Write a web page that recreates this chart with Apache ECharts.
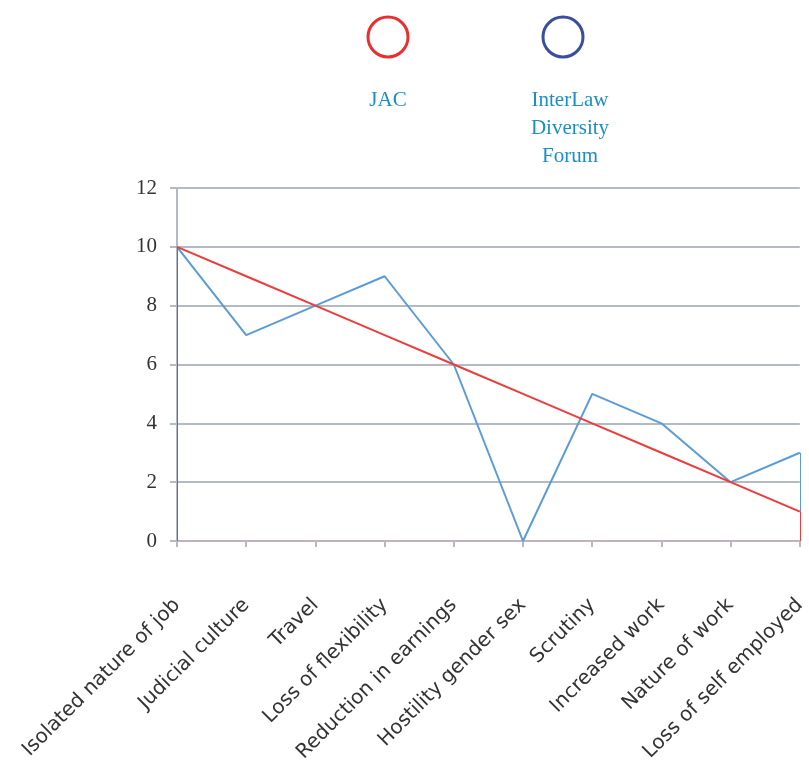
<!DOCTYPE html>
<html><head><meta charset="utf-8">
<script src="https://cdn.jsdelivr.net/npm/echarts@6/dist/echarts.min.js"></script>
<style>html,body{margin:0;padding:0;background:#fff;overflow:hidden}#c{width:809px;height:765px}</style>
</head><body><div id="c"></div>
<script>
var categories = ['Isolated nature of job','Judicial culture','Travel','Loss of flexibility','Reduction in earnings','Hostility gender sex','Scrutiny','Increased work','Nature of work','Loss of self employed'];
var jacValues = [10,9,8,7,6,5,4,3,2,1];
var interlawValues = [10,7,8,9,6,0,5,4,2,3];
var seriesNames = ['JAC','InterLaw\nDiversity\nForum'];
var yTicks = [0,2,4,6,8,10,12];

var RED = '#ef3b3a', BLUE = '#5b9bd6', LEGBLUE = '#3a4ea0', TXT = '#1a8fc6';
var last = categories.length - 1;
function edges(vals){
  return [
    [{coord:[0,0]},{coord:[0,vals[0]]}],
    [{coord:[last,0]},{coord:[last,vals[last]]}]
  ];
}
var chart = echarts.init(document.getElementById('c'));
chart.setOption({
  animation:false,
  grid:{left:177,width:628,top:188,height:353,containLabel:false},
  xAxis:{type:'category',data:categories,boundaryGap:false,
    axisLine:{lineStyle:{color:'#c3b2bd',width:2}},
    axisTick:{show:true,alignWithLabel:true,length:6,lineStyle:{color:'#b4bac4',width:2}},
    axisLabel:{rotate:45,margin:61,color:'#333',fontFamily:'DejaVu Sans',fontSize:20,interval:0}},
  yAxis:{type:'value',min:yTicks[0],max:yTicks[yTicks.length-1],interval:2,
    axisLine:{show:true,lineStyle:{color:'#b4bac4',width:2}},
    axisTick:{show:true,length:7,lineStyle:{color:'#b4bac4',width:2}},
    splitLine:{lineStyle:{color:'#b4bac4',width:2}},
    axisLabel:{margin:20,color:'#333',fontFamily:'Liberation Serif',fontSize:21}},
  graphic:[
    {type:'circle',shape:{cx:388,cy:37,r:20},style:{fill:'none',stroke:'#e8302e',lineWidth:3}},
    {type:'circle',shape:{cx:563,cy:37,r:20},style:{fill:'none',stroke:LEGBLUE,lineWidth:3}},
    {type:'text',x:388,y:100,style:{text:seriesNames[0],fill:TXT,font:'21px "Liberation Serif"',align:'center',verticalAlign:'middle'}},
    {type:'text',x:570,y:128,style:{text:seriesNames[1],fill:TXT,font:'21px "Liberation Serif"',align:'center',verticalAlign:'middle',lineHeight:28}}
  ],
  series:[
    {name:seriesNames[1],type:'line',data:interlawValues,symbol:'none',lineStyle:{color:BLUE,width:2},
      markLine:{silent:true,symbol:'none',label:{show:false},lineStyle:{color:BLUE,width:1,type:'solid'},data:edges(interlawValues)}},
    {name:seriesNames[0],type:'line',data:jacValues,symbol:'none',lineStyle:{color:RED,width:2},
      markLine:{silent:true,symbol:'none',label:{show:false},lineStyle:{color:RED,width:1,type:'solid'},data:edges(jacValues)}}
  ]
});
</script></body></html>
